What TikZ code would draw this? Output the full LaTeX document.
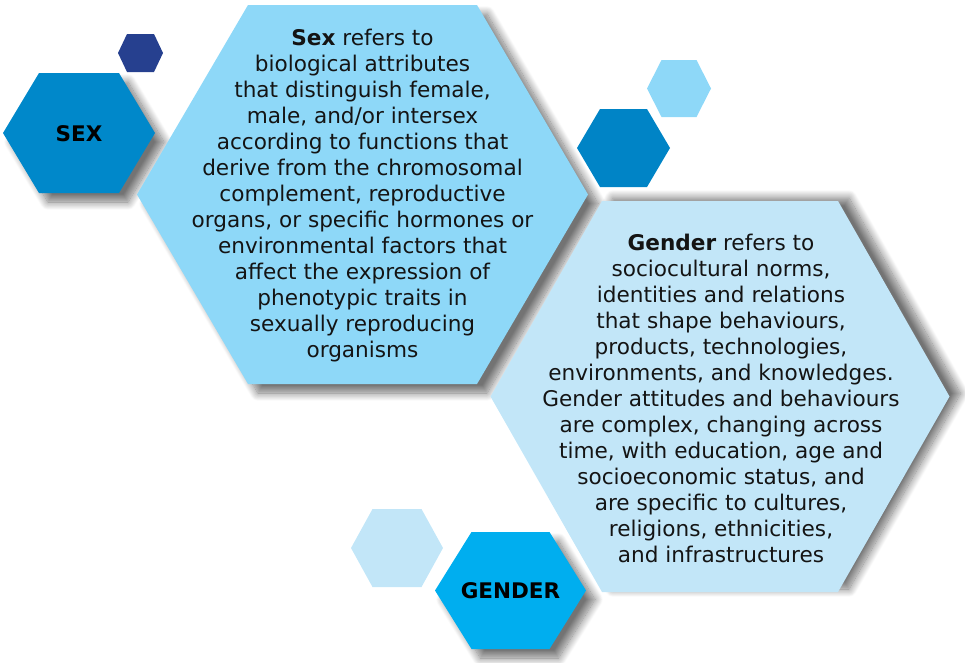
\documentclass[tikz,border=0pt]{standalone}
\usepackage{fontspec}
\setmainfont{DejaVu Sans}
\usetikzlibrary{shadows.blur}
\definecolor{navyhex}{RGB}{38,64,143}
\definecolor{sexhex}{RGB}{0,136,202}
\definecolor{sexbig}{RGB}{142,216,248}
\definecolor{genbig}{RGB}{194,230,248}
\definecolor{medhex}{RGB}{0,132,198}
\definecolor{genhex}{RGB}{0,174,239}
\newcommand{\hexpath}[5]{(#1-#3,#2) -- (#1-#4,#2-#5) -- (#1+#4,#2-#5) -- (#1+#3,#2) -- (#1+#4,#2+#5) -- (#1-#4,#2+#5) -- cycle}
\tikzset{
  shad/.style={blur shadow={shadow xshift=#1, shadow yshift=-9pt, shadow blur steps=14, shadow blur radius=8pt, shadow opacity=55}},
  shad/.default=9pt,
  bodytext/.style={align=center, font=\fontsize{21.6}{26}\selectfont, text=black!92, inner sep=0pt},
  labeltext/.style={font=\fontsize{21.5}{24}\selectfont\bfseries, text=black, inner sep=0pt}
}
\begin{document}
\begin{tikzpicture}[x=1pt,y=-1pt]
\useasboundingbox (0,0) rectangle (965,662);
% small decorative hexagons
\fill[navyhex] \hexpath{140.5}{53}{22.5}{13.5}{19};
\fill[sexbig] \hexpath{679}{88.5}{32}{17.5}{28.5};
\fill[genbig] \hexpath{397}{548}{46}{24.5}{39};
% SEX label hexagon
\fill[sexhex, shad] \hexpath{79}{133}{76}{40}{60};
% big sex hexagon
\fill[sexbig, shad=10pt] \hexpath{362.5}{194.5}{225.5}{114.5}{189.5};
% medium hexagon
\fill[medhex] \hexpath{623.5}{148}{46.5}{23.5}{39};
% big gender hexagon
\fill[genbig, blur shadow={shadow xshift=11pt, shadow yshift=3pt, shadow blur steps=14, shadow blur radius=8pt, shadow opacity=55}] \hexpath{720}{396.5}{229.5}{118}{195.5};
% GENDER label hexagon
\fill[genhex, shad] \hexpath{510.5}{590.5}{75.5}{39}{58.5};
% texts
\node[labeltext] (sexlabel) at (79,134) {SEX};
\node[labeltext] (genderlabel) at (510.5,591) {GENDER};
\node[bodytext] (sextext) at (362.5,196) {\textbf{Sex} refers to\\biological attributes\\that distinguish female,\\male, and/or intersex\\according to functions that\\derive from the chromosomal\\complement, reproductive\\organs, or specific hormones or\\environmental factors that\\affect the expression of\\phenotypic traits in\\sexually reproducing\\organisms};
\node[bodytext] (gendertext) at (721,398) {\textbf{Gender} refers to\\sociocultural norms,\\identities and relations\\that shape behaviours,\\products, technologies,\\environments, and knowledges.\\Gender attitudes and behaviours\\are complex, changing across\\time, with education, age and\\socioeconomic status, and\\are specific to cultures,\\religions, ethnicities,\\and infrastructures};
\end{tikzpicture}
\end{document}
